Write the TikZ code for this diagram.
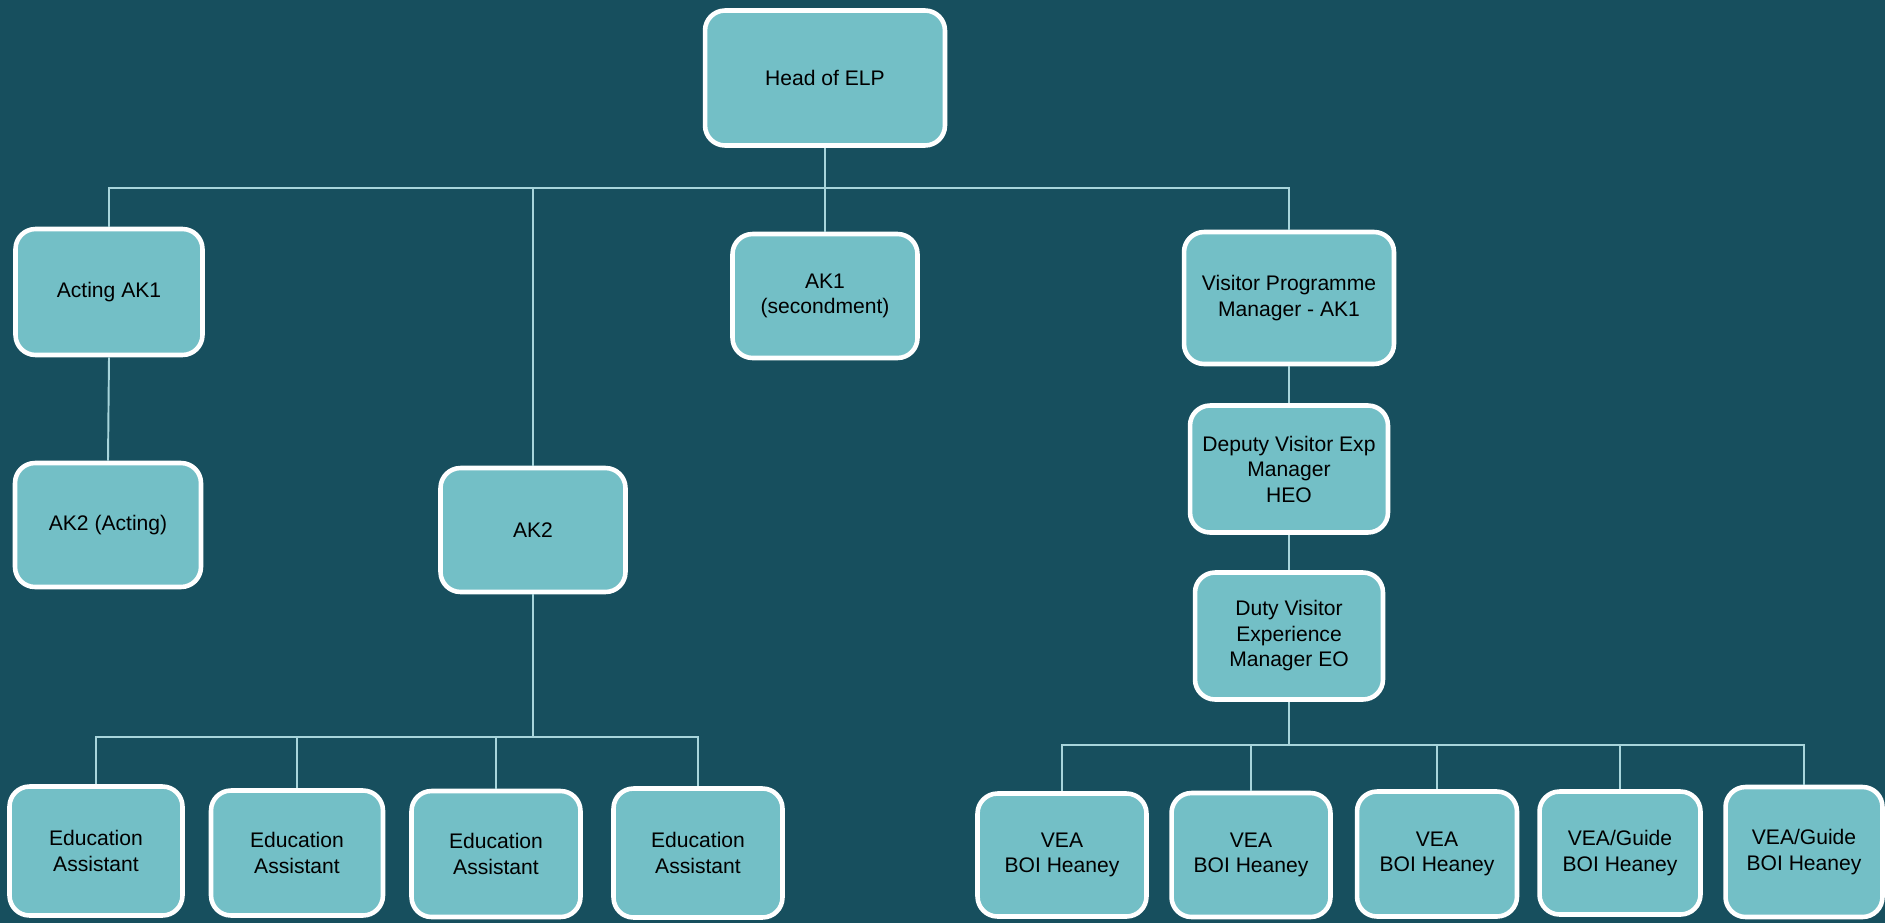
\documentclass[tikz,border=0pt]{standalone}
\usepackage{fontspec}
\setmainfont{Liberation Sans}
\definecolor{bgteal}{HTML}{174F5E}
\definecolor{boxteal}{HTML}{73BFC6}
\definecolor{linkblue}{HTML}{A8D5DB}
\begin{document}
\begin{tikzpicture}[x=0.02cm,y=-0.02cm]
\tikzstyle{post}=[rectangle,rounded corners=4mm,draw=white,line width=2.6pt,fill=boxteal,align=center,inner sep=0pt,font=\fontsize{12}{14.5}\selectfont]
\tikzstyle{link}=[draw=linkblue,line width=1.1pt]

\fill[bgteal] (0,0) rectangle (1885,923);

\node[post,minimum width=4.8cm,minimum height=2.7cm] (head) at (825,78) {Head of ELP};

\node[post,minimum width=3.74cm,minimum height=2.52cm] (actak) at (109,292) {Acting AK1};
\node[post,minimum width=3.72cm,minimum height=2.48cm] (akact) at (108,525) {AK2 (Acting)};
\node[post,minimum width=3.7cm,minimum height=2.48cm] (second) at (825,296) {AK1\\(secondment)};
\node[post,minimum width=3.7cm,minimum height=2.48cm] (aktwo) at (533,530) {AK2};

\node[post,minimum width=4.2cm,minimum height=2.64cm] (vpm) at (1289,298) {Visitor Programme\\Manager - AK1};
\node[post,minimum width=3.96cm,minimum height=2.54cm] (deputy) at (1289,469) {Deputy Visitor Exp\\Manager\\HEO};
\node[post,minimum width=3.76cm,minimum height=2.54cm] (duty) at (1289,636) {Duty Visitor\\Experience\\Manager EO};

% education assistants
\node[post,minimum width=3.46cm,minimum height=2.58cm] (ea1) at (96,851) {Education\\Assistant};
\node[post,minimum width=3.44cm,minimum height=2.5cm] (ea2) at (297,853) {Education\\Assistant};
\node[post,minimum width=3.38cm,minimum height=2.52cm] (ea3) at (496,854) {Education\\Assistant};
\node[post,minimum width=3.38cm,minimum height=2.58cm] (ea4) at (698,853) {Education\\Assistant};

% visitor experience assistants
\node[post,minimum width=3.38cm,minimum height=2.46cm] (vea1) at (1062,855) {VEA\\BOI Heaney};
\node[post,minimum width=3.18cm,minimum height=2.48cm] (vea2) at (1251,855) {VEA\\BOI Heaney};
\node[post,minimum width=3.2cm,minimum height=2.5cm] (vea3) at (1437,854) {VEA\\BOI Heaney};
\node[post,minimum width=3.22cm,minimum height=2.46cm] (guide1) at (1620,853) {VEA/Guide\\BOI Heaney};
\node[post,minimum width=3.14cm,minimum height=2.6cm] (guide2) at (1804,852) {VEA/Guide\\BOI Heaney};

\coordinate (topbar) at (825,188);
\coordinate (eabar) at (533,737);
\coordinate (veabar) at (1289,745);

\path[link] (head.south) -- (topbar);
\path[link] (topbar) -| (actak.north);
\path[link] (topbar) -| (aktwo.north);
\path[link] (topbar) -- (second.north);
\path[link] (topbar) -| (vpm.north);
\path[link] (actak.south) -- (akact.north);
\path[link] (vpm.south) -- (deputy.north);
\path[link] (deputy.south) -- (duty.north);

\path[link] (aktwo.south) -- (eabar);
\foreach \n in {ea1,ea2,ea3,ea4} \path[link] (eabar) -| (\n.north);

\path[link] (duty.south) -- (veabar);
\foreach \n in {vea1,vea2,vea3,guide1,guide2} \path[link] (veabar) -| (\n.north);
\end{tikzpicture}
\end{document}
